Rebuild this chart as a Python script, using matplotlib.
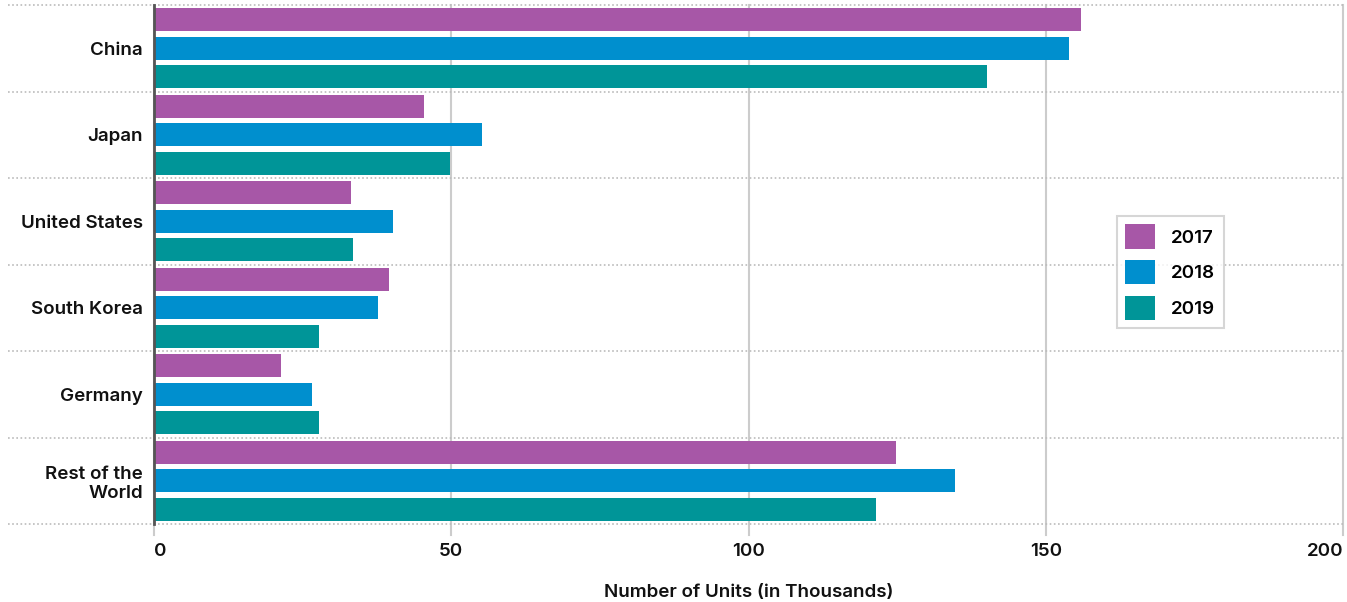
import numpy as np
import matplotlib
matplotlib.use("Agg")
from matplotlib import pyplot as plt
from matplotlib import transforms

plt.rcParams["font.family"] = ["Inter", "DejaVu Sans"]

# Data (thousands of units)
countries = ["China", "Japan", "United States", "South Korea", "Germany", "Rest of the\nWorld"]
years = ["2017", "2018", "2019"]
units_2017 = [155.9, 45.4, 33.1, 39.5, 21.4, 124.8]
units_2018 = [153.9, 55.2, 40.2, 37.7, 26.6, 134.7]
units_2019 = [140.2, 49.8, 33.5, 27.7, 27.7, 121.4]
colors = ["#A757A7", "#008FCE", "#009598"]
x_ticks = [0, 50, 100, 150, 200]

fig = plt.figure(figsize=(13.47, 6.02), dpi=100)
ax = fig.add_axes([154 / 1347, 1 - 524 / 602, (1343 - 154) / 1347, (524 - 5) / 602])

y = np.arange(len(countries))
step = 0.33
height = 0.266
for i, (vals, c, yr) in enumerate(zip([units_2017, units_2018, units_2019], colors, years)):
    ax.barh(y + (i - 1) * step, vals, height=height, color=c, label=yr, zorder=3)

ax.set_xlim(0, 200)
ax.set_ylim(len(countries) - 0.5, -0.5)

# vertical solid grid, a bit past the bottom
for t in x_ticks:
    ax.axvline(t, ymin=-0.022, ymax=1, color="#cccccc", lw=1.5, zorder=1, clip_on=False)

# dotted category separators extending into the label area
trans = transforms.blended_transform_factory(ax.transAxes, ax.transData)
for b in np.arange(-0.5, len(countries), 1.0):
    ax.plot([-0.123, 1.0], [b, b], transform=trans, color="#bbbbbb", lw=1.2,
            ls=(0, (1, 1.5)), clip_on=False, zorder=2)

for s in ["top", "right", "bottom"]:
    ax.spines[s].set_visible(False)
ax.spines["left"].set_color("#555555")
ax.spines["left"].set_linewidth(2)
ax.spines["left"].set_zorder(4)

font = {"size": 13.5, "weight": "semibold"}
ax.set_yticks(y)
ax.set_yticklabels(countries, color="#111111", **font)
ax.tick_params(axis="y", length=0, pad=8)

ax.set_xticks(x_ticks)
ax.set_xticklabels([str(t) for t in x_ticks], color="#111111", **font)
ax.tick_params(axis="x", length=0, pad=14)
labels = ax.get_xticklabels()
labels[0].set_ha("left")
labels[-1].set_ha("right")

ax.set_xlabel("Number of Units (in Thousands)", color="#111111", labelpad=17, **font)

leg = ax.legend(loc="upper left", bbox_to_anchor=((1117 - 154) / 1189, 1 - (216 - 5) / 519),
                borderaxespad=0, frameon=True, fancybox=False, edgecolor="#cccccc",
                handlelength=1.6, handleheight=1.6, handletextpad=0.85,
                labelspacing=0.62, borderpad=0.45, prop={"weight": "semibold", "size": 13.5})
leg.get_frame().set_linewidth(1.5)

fig.savefig("out.png", dpi=100)
